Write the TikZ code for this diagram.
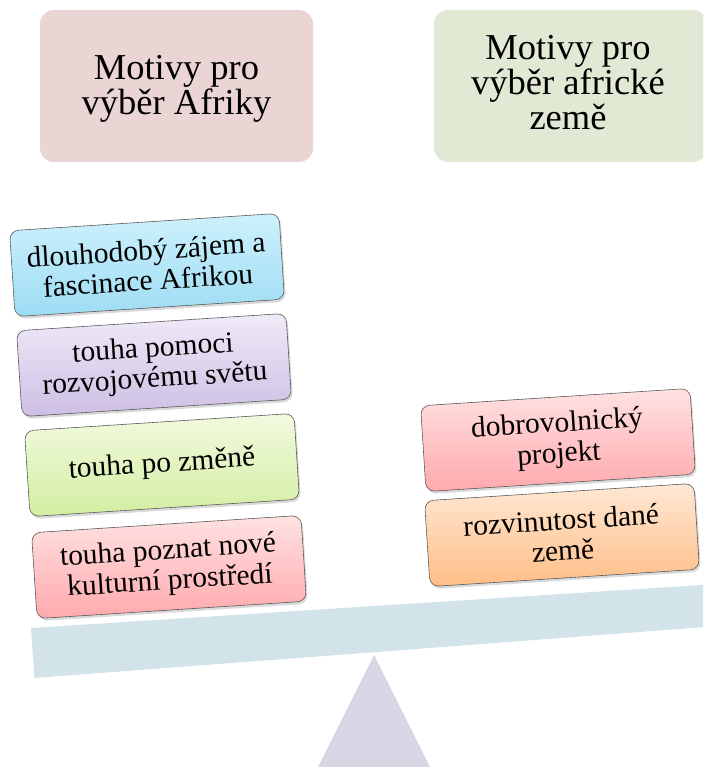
\documentclass[tikz,border=0pt]{standalone}
\usepackage{fontspec}
\setmainfont{Liberation Serif}
\usetikzlibrary{shadows}

\definecolor{hdrL}{HTML}{EAD4D4}
\definecolor{hdrR}{HTML}{E1E8D4}
\definecolor{beamc}{HTML}{D3E3EA}
\definecolor{pivotc}{HTML}{D8D5E4}
\definecolor{blueT}{HTML}{CDF1FC}
\definecolor{blueB}{HTML}{9EDCF4}
\definecolor{purpT}{HTML}{F0EAF8}
\definecolor{purpB}{HTML}{CDBFE4}
\definecolor{greenT}{HTML}{F2FADF}
\definecolor{greenB}{HTML}{D3EEA2}
\definecolor{redT}{HTML}{FFE2E2}
\definecolor{redB}{HTML}{FFA9AD}
\definecolor{orT}{HTML}{FFE8D4}
\definecolor{orB}{HTML}{FFBE88}

\tikzset{
  header/.style={rounded corners=14pt, minimum width=273pt, minimum height=152pt,
    inner sep=0pt},
  htext/.style={align=center, inner sep=0pt, font=\fontsize{36.5}{35}\selectfont},
  weight/.style={rounded corners=9pt, draw=black!65, line width=0.6pt,
    minimum width=270pt, minimum height=86pt, inner sep=0pt, align=center,
    font=\fontsize{29.5}{30.5}\selectfont, rotate=3.7,
    drop shadow={opacity=0.3, shadow xshift=1.5pt, shadow yshift=-2.5pt}},
}

\begin{document}
\begin{tikzpicture}[x=1pt,y=-1pt]
\useasboundingbox (0,0) rectangle (703,767);
\clip (0,0) rectangle (703,767);

% column headings
\node[header, fill=hdrL] (hl) at (176.5,86) {};
\node[htext] (hlt) at (176.5,89) {Motivy pro\\výběr Afriky};
\node[header, fill=hdrR] (hr) at (570.5,86) {};
\node[htext] (hrt) at (568,83) {Motivy pro\\výběr africké\\země};

% pivot and tilted beam
\fill[pivotc] (374,655) -- (430,767) -- (318,767) -- cycle;
\fill[beamc] (31,628) -- (725,583.5) -- (725,625.5) -- (34.5,678) -- cycle;

% weights on the left pan
\node[weight, top color=blueT, bottom color=blueB] (l1) at (147,265) {dlouhodobý zájem a\\fascinace Afrikou};
\node[weight, top color=purpT, bottom color=purpB] (l2) at (154,365) {touha pomoci\\rozvojovému světu};
\node[weight, top color=greenT, bottom color=greenB] (l3) at (162,465) {touha po změně};
\node[weight, top color=redT, bottom color=redB] (l4) at (169,567) {touha poznat nové\\kulturní prostředí};

% weights on the right pan
\node[weight, top color=redT, bottom color=redB] (r1) at (558,440) {dobrovolnický\\projekt};
\node[weight, top color=orT, bottom color=orB] (r2) at (562,535) {rozvinutost dané\\země};
\end{tikzpicture}
\end{document}
